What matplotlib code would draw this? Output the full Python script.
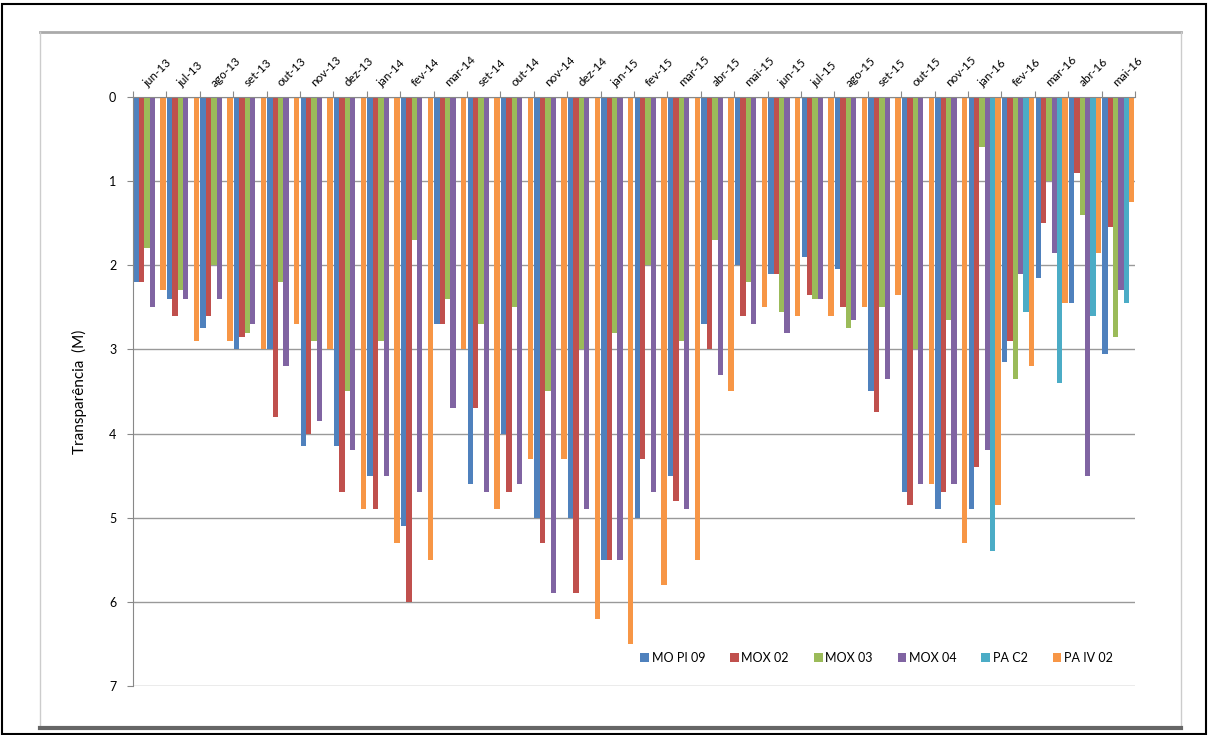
#!/usr/bin/env python

import numpy as np
import matplotlib
matplotlib.use('Agg')
import matplotlib.pyplot as plt
from matplotlib.patches import Rectangle
from matplotlib.lines import Line2D

plt.rcParams['font.family'] = ['Lato', 'DejaVu Sans']

months = ['jun-13', 'jul-13', 'ago-13', 'set-13', 'out-13', 'nov-13', 'dez-13',
          'jan-14', 'fev-14', 'mar-14', 'set-14', 'out-14', 'nov-14', 'dez-14',
          'jan-15', 'fev-15', 'mar-15', 'abr-15', 'mai-15', 'jun-15', 'jul-15',
          'ago-15', 'set-15', 'out-15', 'nov-15', 'jan-16', 'fev-16', 'mar-16',
          'abr-16', 'mai-16']

nan = np.nan
mo_pi_09 = [2.2, 2.4, 2.75, 3.0, 3.0, 4.15, 4.15, 4.5, 5.1, 2.7, 4.6, 4.0, 5.0, 5.0,
            5.5, 5.0, 4.5, 2.7, 2.0, 2.1, 1.9, 2.05, 3.5, 4.7, 4.9, 4.9, 3.15, 2.15,
            2.45, 3.05]
mox_02 = [2.2, 2.6, 2.6, 2.85, 3.8, 4.0, 4.7, 4.9, 6.0, 2.7, 3.7, 4.7, 5.3, 5.9,
          5.5, 4.3, 4.8, 3.0, 2.6, 2.1, 2.35, 2.5, 3.75, 4.85, 4.7, 4.4, 2.9, 1.5,
          0.9, 1.55]
mox_03 = [1.8, 2.3, 2.0, 2.8, 2.2, 2.9, 3.5, 2.9, 1.7, 2.4, 2.7, 2.5, 3.5, 3.0,
          2.8, 2.0, 2.9, 1.7, 2.2, 2.55, 2.4, 2.75, 2.5, 3.0, 2.65, 0.6, 3.35, 1.0,
          1.4, 2.85]
mox_04 = [2.5, 2.4, 2.4, 2.7, 3.2, 3.85, 4.2, 4.5, 4.7, 3.7, 4.7, 4.6, 5.9, 4.9,
          5.5, 4.7, 4.9, 3.3, 2.7, 2.8, 2.4, 2.65, 3.35, 4.6, 4.6, 4.2, 2.1, 1.85,
          4.5, 2.3]
pa_c2 = [nan] * 25 + [5.4, 2.55, 3.4, 2.6, 2.45]
pa_iv_02 = [2.3, 2.9, 2.9, 3.0, 2.7, 3.0, 4.9, 5.3, 5.5, 3.0, 4.9, 4.3, 4.3, 6.2,
            6.5, 5.8, 5.5, 3.5, 2.5, 2.6, 2.6, 2.5, 2.35, 4.6, 5.3, 4.85, 3.2, 2.45,
            1.85, 1.25]

series = [('MO PI 09', mo_pi_09, '#4F81BD'),
          ('MOX 02', mox_02, '#C0504D'),
          ('MOX 03', mox_03, '#9BBB59'),
          ('MOX 04', mox_04, '#8064A2'),
          ('PA C2', pa_c2, '#4BACC6'),
          ('PA IV 02', pa_iv_02, '#F79646')]


def main(filename='out.png'):
    fig = plt.figure(figsize=(12.08, 7.35), dpi=100)
    ax = fig.add_axes([0.1101, 0.0667, 0.8295, 0.8014])

    x = np.arange(len(months))
    w = 0.16
    for j, (name, vals, col) in enumerate(series):
        ax.bar(x + (j - 2.5) * w, vals, width=w, color=col, label=name,
               linewidth=0)

    ax.set_ylim(7, 0)
    ax.set_xlim(-0.5, len(months) - 0.5)
    ax.set_yticks(range(8))
    ax.tick_params(axis='y', labelsize=9, length=4, color='#888888', pad=8)
    ax.yaxis.grid(True, color='#999999', linewidth=1)
    ax.set_axisbelow(True)

    ax.xaxis.tick_top()
    ax.set_xticks(np.arange(len(months) + 1) - 0.5)
    ax.set_xticklabels([])
    ax.tick_params(axis='x', which='major', length=4, color='#888888')
    ax.set_xticks(x, minor=True)
    ax.set_xticklabels(months, minor=True, rotation=45, ha='left', va='bottom',
                       rotation_mode='anchor', fontsize=8.5)
    ax.tick_params(axis='x', which='minor', length=0, pad=6)

    for s in ['right', 'bottom']:
        ax.spines[s].set_visible(False)
    for s in ['left', 'top']:
        ax.spines[s].set_color('#888888')

    ax.set_ylabel('Transparência  (M)', fontsize=11, labelpad=16)

    ax.legend(loc='center', bbox_to_anchor=(0.742, 0.048), ncol=6, frameon=False,
              fontsize=9, handlelength=0.7, handleheight=0.7, handletextpad=0.2,
              columnspacing=2.0)

    # chart area border and outer frame
    fig.add_artist(Line2D([0.0331, 0.9777], [0.9565, 0.9565], color='#aaaaaa',
                          lw=2, transform=fig.transFigure))
    fig.add_artist(Line2D([0.0331, 0.0331], [0.0095, 0.9565], color='#cccccc',
                          lw=1, transform=fig.transFigure))
    fig.add_artist(Line2D([0.9777, 0.9777], [0.0095, 0.9565], color='#cccccc',
                          lw=1, transform=fig.transFigure))
    fig.add_artist(Line2D([0.0331, 0.9777], [0.0095, 0.0095], color='#666666',
                          lw=3, transform=fig.transFigure))
    fig.add_artist(Rectangle((0.002, 0.002), 0.996, 0.993, fill=False,
                             edgecolor='black', lw=1.5, transform=fig.transFigure))

    fig.savefig(filename, dpi=100)


if __name__ == "__main__":
    main()
